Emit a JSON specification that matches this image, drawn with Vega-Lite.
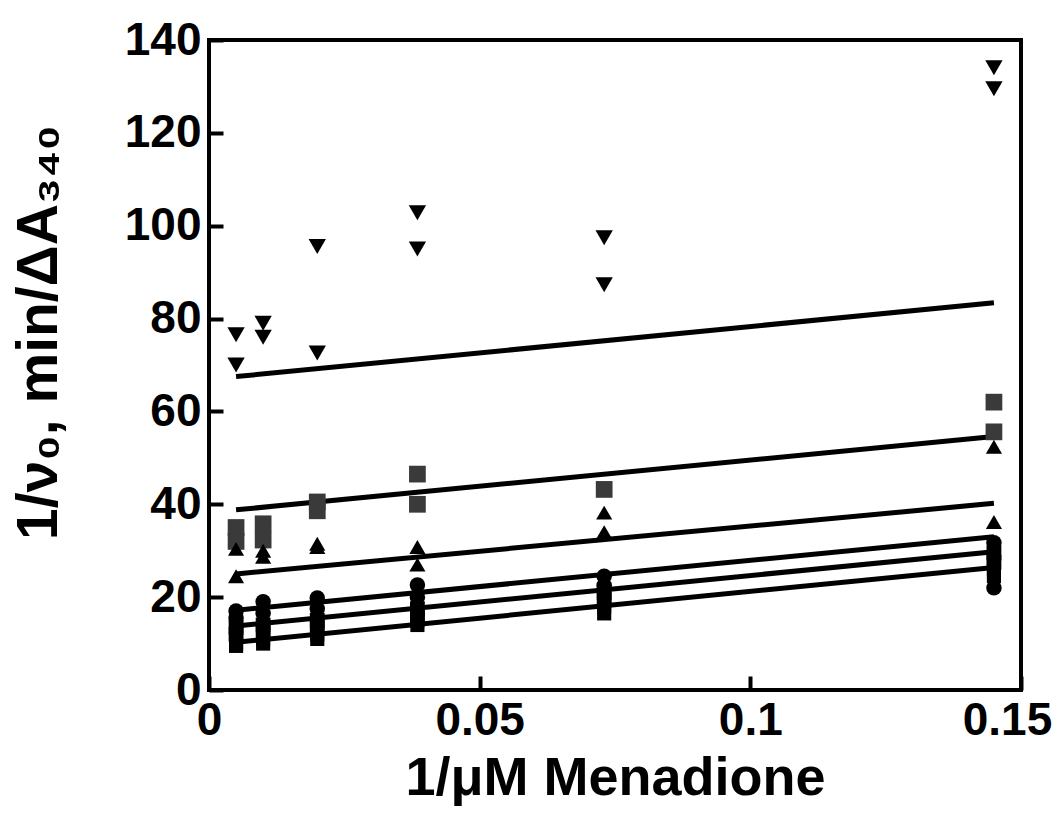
{
  "$schema": "https://vega.github.io/schema/vega-lite/v6.json",
  "width": 812,
  "height": 650,
  "autosize": {"type": "none"},
  "padding": {"left": 209, "top": 40, "right": 34, "bottom": 124},
  "background": "white",
  "config": {
    "view": {"stroke": "black", "strokeWidth": 4},
    "font": "Liberation Sans",
    "axis": {
      "grid": false,
      "domain": false,
      "tickColor": "black",
      "tickWidth": 4,
      "tickSize": -14,
      "labelFont": "Liberation Sans",
      "labelFontWeight": "bold",
      "labelFontSize": 46,
      "labelColor": "black",
      "titleFont": "Liberation Sans",
      "titleFontWeight": "bold",
      "titleFontSize": 54,
      "titleColor": "black"
    }
  },
  "datasets": {
    "pts": [
      {"s": "A", "x": 0.005, "y": 76.5}, {"s": "A", "x": 0.005, "y": 70},
      {"s": "A", "x": 0.01, "y": 79}, {"s": "A", "x": 0.01, "y": 76},
      {"s": "A", "x": 0.02, "y": 95.5}, {"s": "A", "x": 0.02, "y": 72.6},
      {"s": "A", "x": 0.0385, "y": 102.8}, {"s": "A", "x": 0.0385, "y": 95},
      {"s": "A", "x": 0.073, "y": 97.4}, {"s": "A", "x": 0.073, "y": 87.3},
      {"s": "A", "x": 0.145, "y": 134}, {"s": "A", "x": 0.145, "y": 129.5},
      {"s": "B", "x": 0.005, "y": 35}, {"s": "B", "x": 0.005, "y": 32},
      {"s": "B", "x": 0.01, "y": 35.8}, {"s": "B", "x": 0.01, "y": 32.3},
      {"s": "B", "x": 0.02, "y": 40.5}, {"s": "B", "x": 0.02, "y": 38.6},
      {"s": "B", "x": 0.0385, "y": 46.5}, {"s": "B", "x": 0.0385, "y": 40},
      {"s": "B", "x": 0.073, "y": 43.2},
      {"s": "B", "x": 0.145, "y": 62}, {"s": "B", "x": 0.145, "y": 55.6},
      {"s": "C", "x": 0.005, "y": 30.4}, {"s": "C", "x": 0.005, "y": 24.5},
      {"s": "C", "x": 0.01, "y": 30}, {"s": "C", "x": 0.01, "y": 28.7},
      {"s": "C", "x": 0.02, "y": 31.5}, {"s": "C", "x": 0.02, "y": 30.8},
      {"s": "C", "x": 0.0385, "y": 30.8}, {"s": "C", "x": 0.0385, "y": 27},
      {"s": "C", "x": 0.073, "y": 38.2}, {"s": "C", "x": 0.073, "y": 34},
      {"s": "C", "x": 0.145, "y": 52.4}, {"s": "C", "x": 0.145, "y": 36.2},
      {"s": "D", "x": 0.005, "y": 17}, {"s": "D", "x": 0.005, "y": 15.5},
      {"s": "D", "x": 0.01, "y": 19}, {"s": "D", "x": 0.01, "y": 16.5},
      {"s": "D", "x": 0.02, "y": 19.8}, {"s": "D", "x": 0.02, "y": 17.5},
      {"s": "D", "x": 0.0385, "y": 22.6}, {"s": "D", "x": 0.0385, "y": 20},
      {"s": "D", "x": 0.073, "y": 24.5}, {"s": "D", "x": 0.073, "y": 22.5},
      {"s": "D", "x": 0.145, "y": 31.7}, {"s": "D", "x": 0.145, "y": 22},
      {"s": "E", "x": 0.005, "y": 13.5}, {"s": "E", "x": 0.005, "y": 12},
      {"s": "E", "x": 0.01, "y": 14}, {"s": "E", "x": 0.01, "y": 12.5},
      {"s": "E", "x": 0.02, "y": 15}, {"s": "E", "x": 0.02, "y": 13.5},
      {"s": "E", "x": 0.0385, "y": 17.5}, {"s": "E", "x": 0.0385, "y": 16},
      {"s": "E", "x": 0.073, "y": 21}, {"s": "E", "x": 0.073, "y": 19.5},
      {"s": "E", "x": 0.145, "y": 29.5}, {"s": "E", "x": 0.145, "y": 27.5},
      {"s": "F", "x": 0.005, "y": 10}, {"s": "F", "x": 0.005, "y": 9.5},
      {"s": "F", "x": 0.01, "y": 11}, {"s": "F", "x": 0.01, "y": 10},
      {"s": "F", "x": 0.02, "y": 12}, {"s": "F", "x": 0.02, "y": 11},
      {"s": "F", "x": 0.0385, "y": 15}, {"s": "F", "x": 0.0385, "y": 14},
      {"s": "F", "x": 0.073, "y": 18}, {"s": "F", "x": 0.073, "y": 16.5},
      {"s": "F", "x": 0.145, "y": 26}, {"s": "F", "x": 0.145, "y": 24.5}
    ],
    "fits": [
      {"s": "A", "x": 0.005, "y": 67.5}, {"s": "A", "x": 0.145, "y": 83.4},
      {"s": "B", "x": 0.005, "y": 38.8}, {"s": "B", "x": 0.145, "y": 54.6},
      {"s": "C", "x": 0.005, "y": 25}, {"s": "C", "x": 0.145, "y": 40.2},
      {"s": "D", "x": 0.005, "y": 17.2}, {"s": "D", "x": 0.145, "y": 33},
      {"s": "E", "x": 0.005, "y": 13.8}, {"s": "E", "x": 0.145, "y": 29.8},
      {"s": "F", "x": 0.005, "y": 10.3}, {"s": "F", "x": 0.145, "y": 26.4}
    ]
  },
  "encoding": {
    "x": {
      "field": "x", "type": "quantitative",
      "scale": {"domain": [0, 0.15], "nice": false, "zero": false},
      "axis": {
        "values": [0, 0.05, 0.1, 0.15], "format": ".2~f", "labelPadding": 22,
        "labelFlush": false,
        "labelOffset": {"condition": {"test": "datum.value == 0.15", "value": -14}, "value": 0},
        "title": "1/μM Menadione", "titlePadding": 8
      }
    },
    "y": {
      "field": "y", "type": "quantitative",
      "scale": {"domain": [0, 140], "nice": false},
      "axis": {"values": [0, 20, 40, 60, 80, 100, 120, 140], "labelPadding": 22, "title": "1/ν₀, min/ΔA₃₄₀", "titleFontSize": 57, "titlePadding": 56, "titleY": 292}
    }
  },
  "layer": [
    {
      "data": {"name": "fits"},
      "mark": {"type": "line", "color": "black", "strokeWidth": 5},
      "encoding": {"detail": {"field": "s"}}
    },
    {
      "data": {"name": "pts"},
      "mark": {"type": "point", "filled": true, "opacity": 1},
      "encoding": {
        "shape": {"field": "s", "type": "nominal", "legend": null,
          "scale": {"domain": ["A", "B", "C", "D", "E", "F"], "range": ["triangle-down", "square", "triangle-up", "circle", "square", "square"]}},
        "color": {"field": "s", "type": "nominal", "legend": null,
          "scale": {"domain": ["A", "B", "C", "D", "E", "F"], "range": ["black", "#3a3a3a", "black", "black", "black", "black"]}},
        "size": {"field": "s", "type": "nominal", "legend": null,
          "scale": {"domain": ["A", "B", "C", "D", "E", "F"], "range": [300, 200, 260, 170, 200, 200]}}
      }
    }
  ]
}
